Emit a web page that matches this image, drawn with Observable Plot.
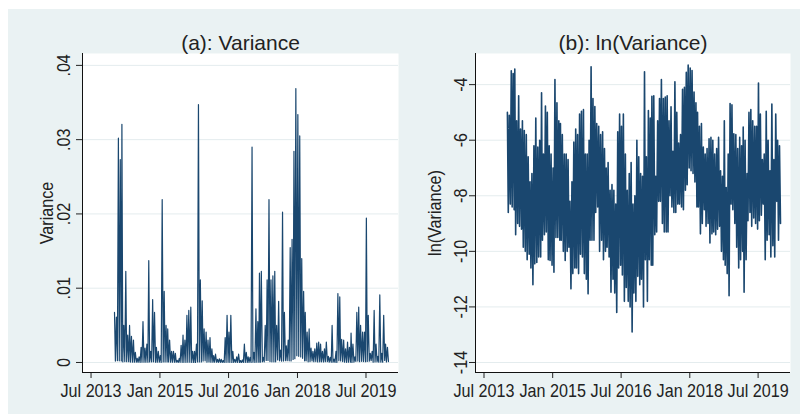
<!DOCTYPE html>
<html><head><meta charset="utf-8">
<script src="https://cdn.jsdelivr.net/npm/d3@7"></script>
<script src="https://cdn.jsdelivr.net/npm/@observablehq/plot@0.6"></script>
<style>
body{margin:0;background:#fff;}
#wrap{position:relative;width:805px;height:417px;overflow:hidden;}
#bg{position:absolute;left:8px;top:9px;width:792px;height:405px;background:#EAF2F3;}
#pa{position:absolute;left:0;top:0;}
#pb{position:absolute;left:402px;top:0;}
</style></head><body>
<div id="wrap"><div id="bg"></div><div id="pa"></div><div id="pb"></div></div>
<script>
// ---- data: ln(Variance), half-monthly highs and lows ----
const years = [2014, 2015, 2016, 2017, 2018, 2019];
const hi2014 = [-5.0,-5.1,-3.5,-3.6,-3.44,-5.3,-4.4,-5.6,-5.3,-5.65,-5.8,-6.6,-7.5,-7.2,-6.2,-5.2,-6.25,-6.0,-4.29,-6.5,-4.77,-5.0,-6.2,-6.5];
const lo2014 = [-8.6,-8.3,-8.4,-8.5,-9.4,-9.0,-9.1,-9.2,-9.85,-10.0,-10.3,-10.1,-10.6,-11.2,-10.45,-10.4,-10.2,-10.2,-9.6,-9.4,-9.3,-10.3,-10.33,-10.5];
const hi2015 = [-7.0,-3.82,-4.65,-5.3,-5.4,-5.8,-6.5,-6.5,-6.7,-8.2,-7.5,-6.07,-5.6,-5.8,-5.06,-4.96,-4.9,-6.5,-6.5,-6.0,-3.36,-4.5,-4.79,-5.4];
const lo2015 = [-10.75,-9.5,-9.5,-9.6,-9.6,-10.0,-10.33,-10.0,-9.85,-11.35,-10.8,-10.6,-10.6,-10.8,-10.1,-10.2,-10.8,-11.0,-11.53,-9.6,-9.6,-9.6,-8.6,-8.4];
const hi2016 = [-5.5,-5.8,-5.7,-6.3,-7.0,-6.8,-7.8,-7.6,-7.8,-8.3,-5.7,-5.06,-5.5,-5.06,-6.5,-7.8,-7.2,-6.8,-8.3,-8.0,-6.0,-6.6,-7.2,-7.3];
const lo2016 = [-10.0,-9.6,-10.3,-10.0,-9.85,-10.2,-11.47,-11.0,-11.5,-12.2,-10.6,-10.5,-10.85,-11.8,-11.3,-11.8,-12.0,-12.9,-11.5,-11.8,-10.9,-11.2,-11.0,-12.0];
const hi2017 = [-3.54,-6.6,-4.93,-5.2,-4.42,-4.4,-7.3,-5.3,-4.5,-3.82,-4.5,-4.45,-4.4,-5.3,-4.8,-6.4,-3.9,-5.0,-6.1,-5.8,-4.17,-4.1,-3.56,-3.3];
const lo2017 = [-10.3,-11.8,-10.3,-10.5,-10.5,-9.4,-9.3,-8.2,-8.2,-9.0,-9.3,-9.3,-9.3,-8.0,-8.4,-8.6,-8.6,-8.3,-8.3,-8.4,-8.5,-7.8,-7.6,-7.0];
const hi2018 = [-3.4,-3.49,-4.27,-4.65,-5.0,-5.5,-5.4,-6.25,-6.5,-6.3,-5.95,-5.9,-6.0,-6.5,-6.3,-5.9,-7.1,-7.3,-5.3,-7.7,-6.5,-4.68,-4.73,-5.77];
const lo2018 = [-7.1,-7.2,-7.5,-8.4,-8.4,-9.37,-9.0,-8.5,-9.1,-9.0,-9.7,-9.37,-9.3,-9.4,-9.2,-9.1,-10.0,-10.3,-10.5,-10.8,-11.6,-8.3,-8.5,-9.0];
const hi2019 = [-5.8,-6.3,-5.9,-6.2,-5.53,-6.0,-7.2,-5.0,-4.9,-5.3,-5.5,-5.5,-3.94,-5.06,-6.7,-6.5,-4.96,-6.0,-7.1,-4.7,-6.7,-5.06,-6.0,-6.2];
const lo2019 = [-9.85,-10.6,-10.3,-10.0,-11.47,-10.3,-8.9,-8.6,-9.1,-8.8,-9.0,-9.2,-8.9,-8.7,-8.3,-10.3,-9.6,-9.4,-10.2,-9.8,-10.2,-8.2,-9.6,-9.0];

const highs = [hi2014, hi2015, hi2016, hi2017, hi2018, hi2019];
const lows  = [lo2014, lo2015, lo2016, lo2017, lo2018, lo2019];

// ---- axis ticks / labels ----
const xTicks = [new Date(Date.UTC(2013,6,1)), new Date(Date.UTC(2015,0,1)), new Date(Date.UTC(2016,6,1)), new Date(Date.UTC(2018,0,1)), new Date(Date.UTC(2019,6,1))];
const xLabels = ["Jul 2013", "Jan 2015", "Jul 2016", "Jan 2018", "Jul 2019"];
const xDomain = [new Date(Date.UTC(2013,3,24)), new Date(Date.UTC(2020,2,16))];
const yTicksA = [0, 0.01, 0.02, 0.03, 0.04];
const yLabelsA = ["0", ".01", ".02", ".03", ".04"];
const yTicksB = [-14, -12, -10, -8, -6, -4];
const yLabelsB = ["-14", "-12", "-10", "-8", "-6", "-4"];
const titleA = "(a): Variance", titleB = "(b): ln(Variance)";
const yTitleA = "Variance", yTitleB = "ln(Variance)";

// build the zigzag series from the read highs/lows
const lnSeries = [];
years.forEach((yr, j) => {
  for (let k = 0; k < 24; k++) {
    const m = Math.floor(k / 2), h = k % 2;
    lnSeries.push({date: new Date(Date.UTC(yr, m, h ? 19 : 4)), v: highs[j][k]});
    lnSeries.push({date: new Date(Date.UTC(yr, m, h ? 27 : 11)), v: lows[j][k]});
  }
});
const varSeries = lnSeries.map(d => ({date: d.date, v: Math.exp(d.v)}));

const NAVY = "#1A476F";
const GRID = "#E4ECEE";
const FONT = "'Liberation Sans', Arial, sans-serif";

function panel({width, ml, mr, title, yDomain, yTicks, yLabels, yTitle, data, labDx, titDx, sw}) {
  return Plot.plot({
    width, height: 417,
    marginLeft: ml, marginRight: mr, marginTop: 53, marginBottom: 45,
    style: {background: "transparent", fontFamily: FONT, fontSize: "19px", color: "#222", overflow: "visible"},
    x: {type: "utc", domain: xDomain, ticks: xTicks,
        tickFormat: d => xLabels[xTicks.findIndex(t => +t === +d)],
        tickSize: 6, tickPadding: 5, label: null},
    y: {domain: yDomain, ticks: yTicks, tickFormat: () => "", tickSize: 6, label: null},
    marks: [
      Plot.frame({fill: "white", stroke: "none"}),
      Plot.ruleY(yTicks, {stroke: GRID, strokeWidth: 1}),
      Plot.line(data, {x: "date", y: "v", stroke: NAVY, strokeWidth: sw}),
      Plot.ruleX([xDomain[0]], {stroke: "#111"}),
      Plot.ruleY([yDomain[0]], {stroke: "#111"}),
      Plot.text(yTicks, {y: d => d, text: (d, i) => yLabels[i], frameAnchor: "left", rotate: -90,
        dx: labDx, lineAnchor: "bottom", textAnchor: "middle", fontFamily: FONT, fontSize: 19, fill: "#222"}),
      Plot.text([yTitle], {frameAnchor: "left", rotate: -90, dx: titDx, lineAnchor: "bottom",
        textAnchor: "middle", fontFamily: FONT, fontSize: 19, fill: "#222"}),
      Plot.text([title], {frameAnchor: "top", dy: -4, lineAnchor: "bottom", textAnchor: "middle",
        fontFamily: FONT, fontSize: 21, fill: "#222"})
    ]
  });
}

// narrow the axis texts (the reference uses a condensed face)
function condense(svg, skip) {
  svg.querySelectorAll("text").forEach(t => {
    if (skip.includes(t.textContent)) return;
    const w = t.getComputedTextLength();
    if (w > 0) {
      t.setAttribute("textLength", (w * 0.85).toFixed(2));
      t.setAttribute("lengthAdjust", "spacingAndGlyphs");
    }
  });
}

const svgA = panel({
  width: 402, ml: 82, mr: 4, title: titleA,
  yDomain: [-0.00135, 0.0416], yTicks: yTicksA, yLabels: yLabelsA, yTitle: yTitleA,
  data: varSeries, labDx: -13, titDx: -30, sw: 1.2
});
const svgB = panel({
  width: 403, ml: 73, mr: 15, title: titleB,
  yDomain: [-14.36, -2.88], yTicks: yTicksB, yLabels: yLabelsB, yTitle: yTitleB,
  data: lnSeries, labDx: -9, titDx: -35, sw: 1.6
});
document.getElementById("pa").appendChild(svgA);
document.getElementById("pb").appendChild(svgB);
condense(svgA, [titleA]);
condense(svgB, [titleB]);
</script>
</body></html>
